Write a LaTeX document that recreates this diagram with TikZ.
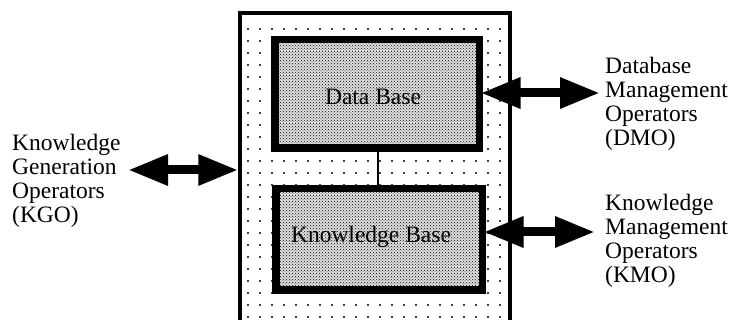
\documentclass[tikz,border=0pt]{standalone}
\usepackage{fontspec}
\setmainfont{Liberation Serif}
\usetikzlibrary{arrows.meta,patterns}
\tikzset{
  outerbox/.style={draw, line width=3.5pt, minimum width=270pt, minimum height=315pt, inner sep=0pt},
  basebox/.style={draw, line width=5pt, fill=black!12, inner sep=0pt},
  stip/.style={pattern=crosshatch dots, pattern color=black},
  txt/.style={font=\fontsize{23.5}{24}\selectfont},
  label/.style={txt, align=left, anchor=west, inner sep=0pt},
  bigarrow/.style={line width=9pt, {Triangle[length=40pt,width=29pt]}-{Triangle[length=40pt,width=29pt]}}
}
\begin{document}
\begin{tikzpicture}[x=1pt,y=-1pt]
\useasboundingbox (0,0) rectangle (737,320);
\clip (0,0) rectangle (737,320);
% dotted background of outer box
\foreach \i in {0,...,21} {
  \foreach \j in {0,...,26} {
    \fill[black] ({248+12*\i},{29+12*\j}) circle (1.2pt);
  }
}
\node[outerbox] (outer) at (375,170.5) {};
% inner boxes
\node[basebox, minimum width=202pt, minimum height=106pt] (db) at (377,94) {};
\fill[stip] (db.south west) rectangle (db.north east);
\node[txt] at (373,97) {Data Base};
\node[basebox, minimum width=204pt, minimum height=99pt] (kb) at (379,239.5) {};
\fill[stip] (kb.south west) rectangle (kb.north east);
\node[txt] at (371,237) {Knowledge Base};
\draw[line width=5pt] (db.south west) rectangle (db.north east);
\draw[line width=5pt] (kb.south west) rectangle (kb.north east);
\draw[line width=1.2pt] (db.south -| 378,0) -- (kb.north -| 378,0);
% labels
\node[label] (kgo) at (12,181) {Knowledge\\Generation\\Operators\\(KGO)};
\node[label] (dmo) at (605,104) {Database\\Management\\Operators\\(DMO)};
\node[label] (kmo) at (605,241) {Knowledge\\Management\\Operators\\(KMO)};
% arrows
\coordinate (kgoL) at (128,170);
\coordinate (dmoR) at (600,93);
\coordinate (kmoR) at (595,232);
\draw[bigarrow] (kgoL) -- (kgoL -| outer.west);
\draw[bigarrow] (db.east |- dmoR) -- (dmoR);
\draw[bigarrow] (kb.east |- kmoR) -- (kmoR);
\end{tikzpicture}
\end{document}
